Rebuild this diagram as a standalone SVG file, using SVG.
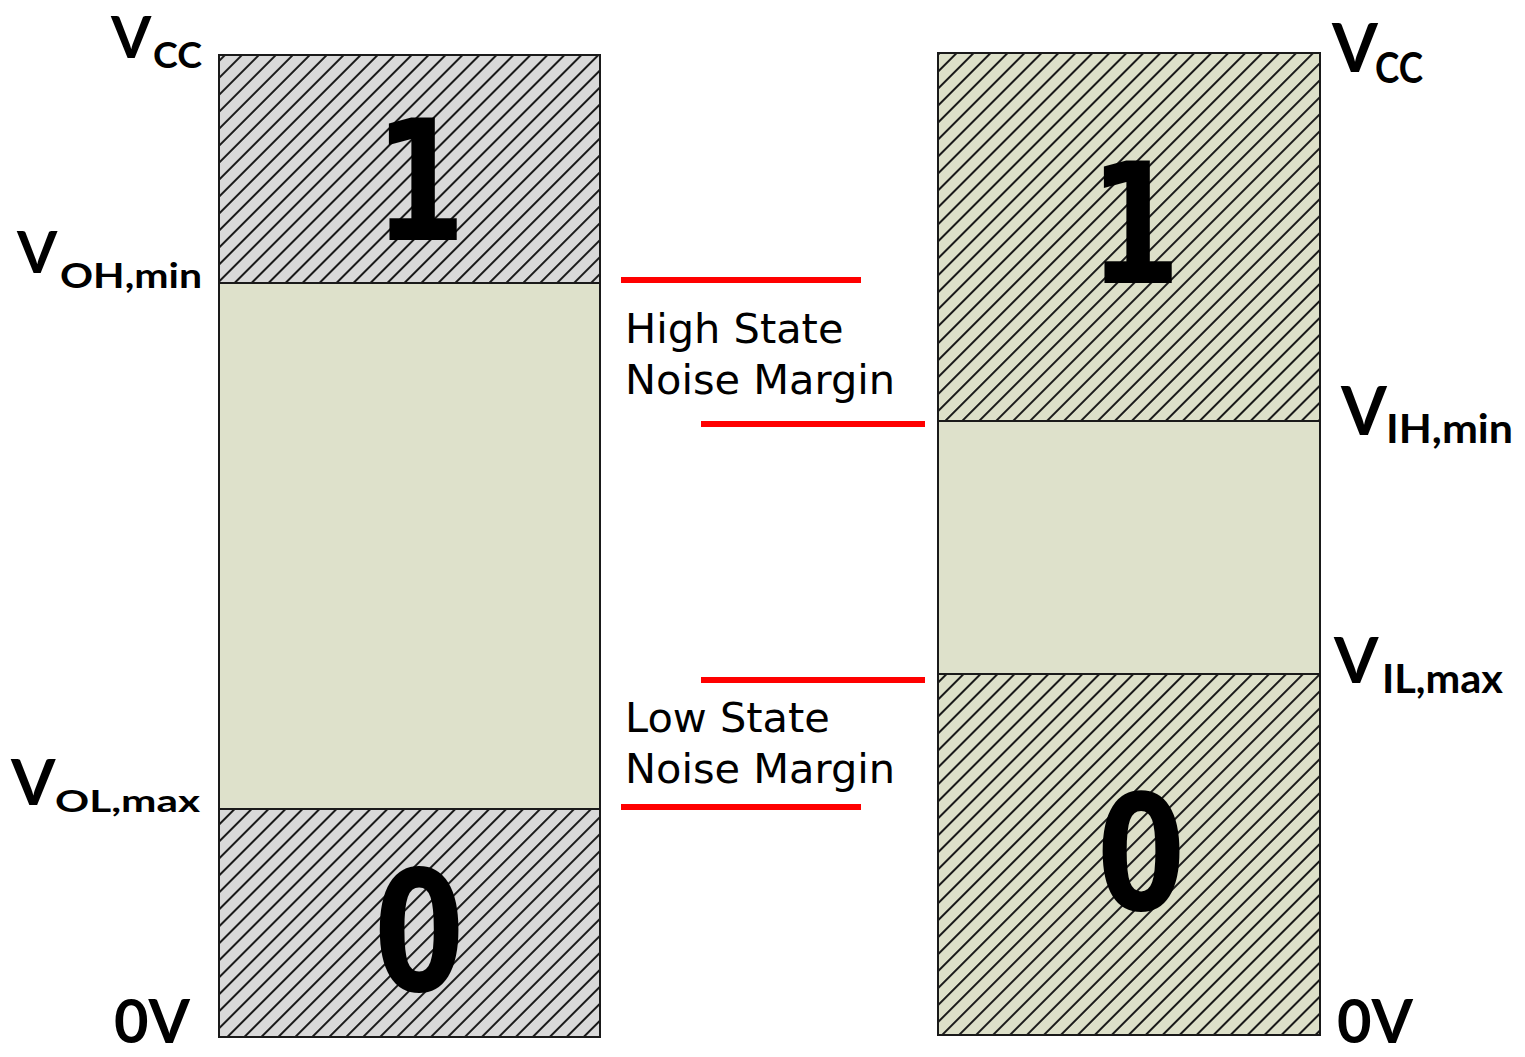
<svg xmlns="http://www.w3.org/2000/svg" width="1525" height="1057" viewBox="0 0 1525 1057">
<defs>
<pattern id="hatchGray" patternUnits="userSpaceOnUse" width="12" height="12" patternTransform="rotate(-45)">
<rect width="12" height="12" fill="#d9d9d9"/>
<line x1="0" y1="6" x2="12" y2="6" stroke="#1a1a1a" stroke-width="2"/>
</pattern>
<pattern id="hatchGreen" patternUnits="userSpaceOnUse" width="12" height="12" patternTransform="rotate(-45)">
<rect width="12" height="12" fill="#dde0c9"/>
<line x1="0" y1="6" x2="12" y2="6" stroke="#1a1a1a" stroke-width="2"/>
</pattern>
</defs>
<style>
.box{stroke:#1a1a1a;stroke-width:2}
.mid{fill:#dee1cb}
.lbl{font-family:Lato,"Open Sans","Noto Sans",sans-serif;font-weight:bold;fill:#000}
.dig{font-family:"DejaVu Sans",sans-serif;font-weight:bold;fill:#000;text-anchor:middle}
.nm{font-family:"DejaVu Sans","Verdana",sans-serif;font-size:41.5px;fill:#000}
.red{stroke:#ff0000;stroke-width:6}
</style>
<g id="left-bar">
<rect x="219" y="55" width="381" height="228" fill="url(#hatchGray)" class="box"/>
<rect x="219" y="283" width="381" height="526" class="mid box"/>
<rect x="219" y="809" width="381" height="228" fill="url(#hatchGray)" class="box"/>
<text transform="translate(420,240) scale(0.79,1)" class="dig" font-size="167">1</text>
<text transform="translate(419,991) scale(0.78,1)" class="dig" font-size="168">0</text>
</g>
<g id="right-bar">
<rect x="938" y="53" width="382" height="368" fill="url(#hatchGreen)" class="box"/>
<rect x="938" y="421" width="382" height="253" class="mid box"/>
<rect x="938" y="674" width="382" height="361" fill="url(#hatchGreen)" class="box"/>
<text transform="translate(1135,283) scale(0.79,1)" class="dig" font-size="167">1</text>
<text transform="translate(1141,910) scale(0.8,1)" class="dig" font-size="160">0</text>
</g>
<g id="left-labels">
<text x="111" y="58" class="lbl" font-size="58">V</text>
<text x="153" y="68" class="lbl" font-size="37" textLength="49" lengthAdjust="spacingAndGlyphs">CC</text>
<text x="17" y="273" class="lbl" font-size="58">V</text>
<text x="60" y="288" class="lbl" font-size="35" textLength="142" lengthAdjust="spacingAndGlyphs">OH,min</text>
<text x="11" y="805" class="lbl" font-size="64">V</text>
<text x="55" y="812" class="lbl" font-size="31" textLength="145" lengthAdjust="spacingAndGlyphs">OL,max</text>
<text x="114" y="1043" class="lbl" font-size="62" textLength="76" lengthAdjust="spacingAndGlyphs">0V</text>
</g>
<g id="right-labels">
<text x="1332" y="72" class="lbl" font-size="66">V</text>
<text x="1375" y="83" class="lbl" font-size="42" textLength="48" lengthAdjust="spacingAndGlyphs">CC</text>
<text x="1341" y="435" class="lbl" font-size="66">V</text>
<text x="1386" y="443" class="lbl" font-size="40" textLength="127" lengthAdjust="spacingAndGlyphs">IH,min</text>
<text x="1334" y="683" class="lbl" font-size="64">V</text>
<text x="1382" y="693" class="lbl" font-size="40" textLength="121" lengthAdjust="spacingAndGlyphs">IL,max</text>
<text x="1337" y="1043" class="lbl" font-size="62" textLength="76" lengthAdjust="spacingAndGlyphs">0V</text>
</g>
<g id="high-margin">
<text x="625" y="343" class="nm">High State</text>
<text x="625" y="394" class="nm">Noise Margin</text>
</g>
<g id="low-margin">
<text x="625" y="732" class="nm">Low State</text>
<text x="625" y="783" class="nm">Noise Margin</text>
</g>
<g id="connectors">
<line x1="621" y1="280" x2="861" y2="280" class="red"/>
<line x1="701" y1="424" x2="925" y2="424" class="red"/>
<line x1="701" y1="680" x2="925" y2="680" class="red"/>
<line x1="621" y1="807" x2="861" y2="807" class="red"/>
</g>
</svg>
